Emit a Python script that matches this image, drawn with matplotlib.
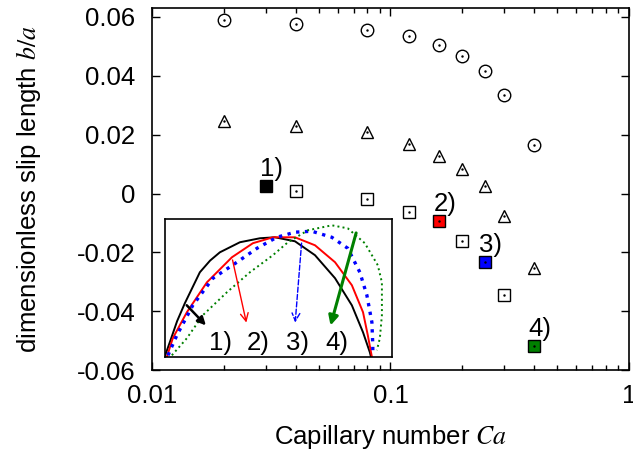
import numpy as np
import matplotlib
matplotlib.use("Agg")
import matplotlib.pyplot as plt

plt.rcParams['font.family'] = ['Liberation Sans', 'DejaVu Sans']
plt.rcParams['mathtext.fontset'] = 'stix'
FS = 18.5

# slip length vs capillary number, three series of open markers
ca_circ = [0.02, 0.04, 0.08, 0.12, 0.16, 0.2, 0.25, 0.3, 0.4]
b_circ = [0.0589, 0.0576, 0.0555, 0.0535, 0.0504, 0.0467, 0.0416, 0.0334, 0.0164]

ca_tri = [0.02, 0.04, 0.08, 0.12, 0.16, 0.2, 0.25, 0.3, 0.4]
b_tri = [0.0245, 0.0228, 0.0208, 0.0170, 0.0129, 0.0082, 0.0027, -0.0078, -0.0252]

ca_sq = [0.04, 0.08, 0.12, 0.2, 0.3]
b_sq = [0.0007, -0.0017, -0.0063, -0.0160, -0.0344]

# highlighted cases 1)-4)
ca_sel = [0.03, 0.16, 0.25, 0.4]
b_sel = [0.0027, -0.0092, -0.0232, -0.0518]
sel_labels = ['1)', '2)', '3)', '4)']
sel_colors = ['black', 'red', 'blue', 'green']

# interface shapes for the inset (normalised box coordinates)
shape1_x = [0.0, 0.023, 0.055, 0.089, 0.155, 0.200, 0.243, 0.331, 0.419, 0.485, 0.573, 0.661, 0.749, 0.823, 0.872, 0.902, 0.907]
shape1_y = [0.0, 0.107, 0.260, 0.390, 0.615, 0.700, 0.760, 0.833, 0.862, 0.869, 0.840, 0.739, 0.572, 0.375, 0.179, 0.034, 0.0]
shape2_x = [0.01, 0.036, 0.098, 0.186, 0.296, 0.388, 0.476, 0.573, 0.661, 0.749, 0.823, 0.872, 0.893, 0.911]
shape2_y = [0.0, 0.136, 0.325, 0.542, 0.724, 0.826, 0.869, 0.869, 0.811, 0.688, 0.521, 0.325, 0.158, 0.0]
shape3_x = [0.015, 0.054, 0.124, 0.212, 0.318, 0.406, 0.493, 0.573, 0.647, 0.735, 0.805, 0.858, 0.889, 0.911, 0.915, 0.915]
shape3_y = [0.012, 0.158, 0.375, 0.571, 0.688, 0.789, 0.869, 0.906, 0.913, 0.869, 0.789, 0.615, 0.448, 0.252, 0.085, 0.034]
shape4_x = [0.032, 0.098, 0.168, 0.274, 0.375, 0.476, 0.542, 0.630, 0.735, 0.805, 0.880, 0.937, 0.955, 0.955, 0.946, 0.933]
shape4_y = [0.012, 0.136, 0.303, 0.470, 0.615, 0.739, 0.833, 0.920, 0.956, 0.934, 0.826, 0.666, 0.542, 0.303, 0.136, 0.049]

# arrows (start, end) and label spots in the inset
arr_start = [(0.089, 0.390), (0.296, 0.724), (0.603, 0.847), (0.845, 0.920)]
arr_end = [(0.190, 0.215), (0.362, 0.230), (0.573, 0.230), (0.726, 0.209)]
lab_x = [0.244, 0.413, 0.585, 0.757]
lab_y = 0.10

fig = plt.figure(figsize=(6.33, 4.53), dpi=100)
ax = fig.add_axes([0.240, 0.183, 0.7537, 0.799])

ms = 9
ax.plot(ca_circ, b_circ, 'o', ms=ms, mfc='none', mec='black', mew=1.0)
ax.plot(ca_tri, b_tri, '^', ms=ms, mfc='none', mec='black', mew=1.0)
ax.plot(ca_sq, b_sq, 's', ms=ms - 0.5, mfc='none', mec='black', mew=1.0)
for c, b, col in zip(ca_sel, b_sel, sel_colors):
    ax.plot(c, b, 's', ms=ms, mfc=col, mec='black', mew=1.0)
# centre dots
ax.plot(ca_circ + ca_tri + ca_sq + ca_sel, b_circ + b_tri + b_sq + b_sel,
        '.', ms=1.5, color='black')
for c, b, t in zip(ca_sel, b_sel, sel_labels):
    ax.annotate(t, (c, b), xytext=(4, 12), textcoords='offset points',
                ha='center', va='center', fontsize=FS)

ax.set_xscale('log')
ax.set_xlim(0.01, 1)
ax.set_ylim(-0.06, 0.063)
ax.set_yticks([-0.06, -0.04, -0.02, 0, 0.02, 0.04, 0.06])
ax.set_yticklabels(['-0.06', '-0.04', '-0.02', '0', '0.02', '0.04', '0.06'])
ax.set_xticks([0.01, 0.1, 1])
ax.set_xticklabels(['0.01', '0.1', '1'])
ax.tick_params(which='both', direction='in', top=True, right=True,
               labelsize=FS)
ax.tick_params(axis='y', pad=12)
ax.tick_params(axis='x', pad=10)
ax.tick_params(which='major', length=6, width=1)
ax.tick_params(which='minor', length=3.5, width=1)
for s in ax.spines.values():
    s.set_linewidth(1.2)
ax.set_xlabel('Capillary number $Ca$', fontsize=FS, labelpad=11)
ax.set_ylabel('dimensionless slip length $b/a$', fontsize=FS, labelpad=24)

# inset with droplet shapes
ins = fig.add_axes([0.260, 0.212, 0.3595, 0.304])
ins.plot(shape1_x, shape1_y, '-', color='black', lw=1.4)
ins.plot(shape2_x, shape2_y, '-', color='red', lw=1.4)
ins.plot(shape3_x, shape3_y, ':', color='blue', lw=2.4)
ins.plot(shape4_x, shape4_y, ':', color='green', lw=1.4)

arr_styles = [
    dict(arrowstyle='-|>', color='black', lw=1.8, mutation_scale=12),
    dict(arrowstyle='->', color='red', lw=1.0, mutation_scale=14),
    dict(arrowstyle='->', color='blue', lw=1.0, ls='--', mutation_scale=14),
    dict(arrowstyle='-|>', color='green', lw=2.2, mutation_scale=14),
]
for p0, p1, st in zip(arr_start, arr_end, arr_styles):
    ins.annotate('', xy=p1, xytext=p0, arrowprops=st)
for x, t in zip(lab_x, sel_labels):
    ins.text(x, lab_y, t, ha='center', va='center', fontsize=FS)

ins.set_xlim(0, 1)
ins.set_ylim(0, 1)
ins.set_xticks([])
ins.set_yticks([])
for s in ins.spines.values():
    s.set_linewidth(1.2)

fig.savefig('out.png', dpi=100)
